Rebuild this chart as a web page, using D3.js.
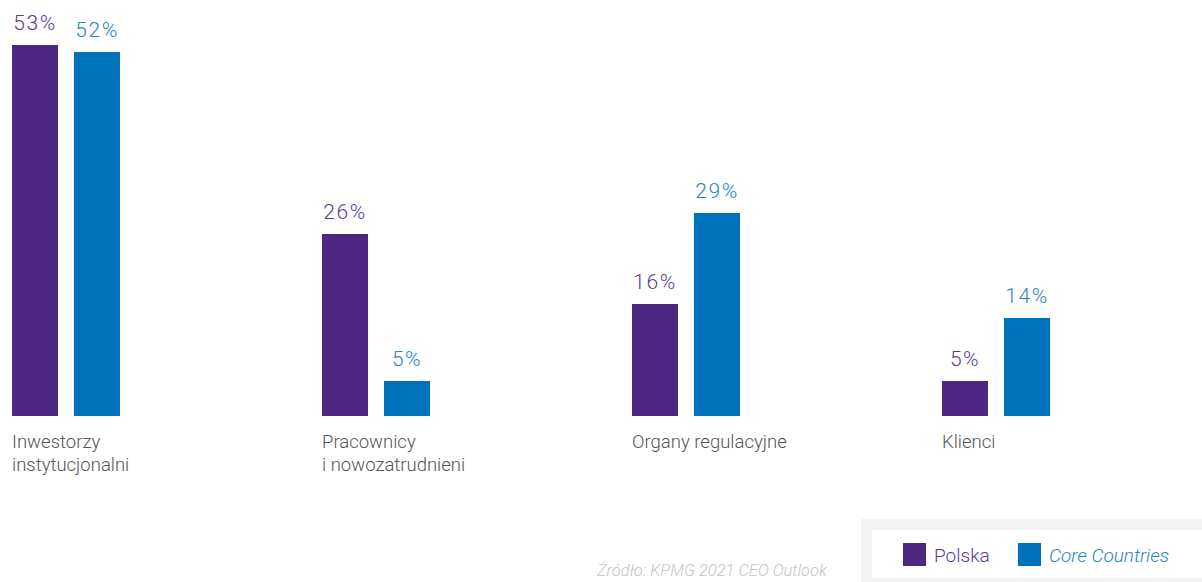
<!DOCTYPE html>
<html>
<head>
<meta charset="utf-8">
<script src="https://cdn.jsdelivr.net/npm/d3@7"></script>
<style>
  html, body { margin: 0; padding: 0; background: #fff; }
  svg { display: block; }
  text { font-family: Roboto, "Liberation Sans", Arial, sans-serif; font-weight: 300; }
</style>
</head>
<body>
<svg id="chart" width="1202" height="582"></svg>
<script>
// Stakeholder groups (each label split into lines)
const categories = [
  ["Inwestorzy", "instytucjonalni"],
  ["Pracownicy", "i nowozatrudnieni"],
  ["Organy regulacyjne"],
  ["Klienci"]
];
const seriesNames = ["Polska", "Core Countries"];
const polska = [53, 26, 16, 5];
const coreCountries = [52, 5, 29, 14];
const sourceNote = "Źródło: KPMG 2021 CEO Outlook";

const barColors = ["#4c2882", "#0071bb"];
const labelColors = ["#5b3996", "#2585c6"];

const svg = d3.select("#chart");
const keys = categories.map((c, i) => i);

const x0 = d3.scaleBand().domain(keys).range([12, 12 + 310 * 4]).paddingInner(0).paddingOuter(0);
const x1 = d3.scaleBand().domain([0, 1]).range([0, 108]).paddingInner(16 / 62).paddingOuter(0);
const y = d3.scaleLinear().domain([0, 60]).range([416, 416 - 420]);

const values = [polska, coreCountries];
const rows = [];
keys.forEach(k => values.forEach((vals, s) => rows.push({ k, s, v: vals[k] })));

const groups = svg.append("g");

groups.selectAll("rect.bar")
  .data(rows)
  .join("rect")
  .attr("class", "bar")
  .attr("x", d => x0(d.k) + x1(d.s))
  .attr("y", d => y(d.v))
  .attr("width", x1.bandwidth())
  .attr("height", d => y(0) - y(d.v))
  .attr("fill", d => barColors[d.s]);

groups.selectAll("text.val")
  .data(rows)
  .join("text")
  .attr("class", "val")
  .attr("x", d => x0(d.k) + x1(d.s) + x1.bandwidth() / 2)
  .attr("y", d => y(d.v) - 15)
  .attr("text-anchor", "middle")
  .attr("font-size", 21)
  .attr("letter-spacing", 1.5)
  .attr("fill", d => labelColors[d.s])
  .text(d => d.v + "%");

// Category labels under each group
const catText = svg.append("g").selectAll("text")
  .data(categories)
  .join("text")
  .attr("x", (d, i) => x0(i))
  .attr("y", 448)
  .attr("font-size", 18.5)
  .attr("fill", "#555");
catText.selectAll("tspan")
  .data(d => d)
  .join("tspan")
  .attr("x", function () { return d3.select(this.parentNode).attr("x"); })
  .attr("dy", (d, i) => i === 0 ? 0 : 23)
  .text(d => d);

// Source note
svg.append("text")
  .attr("x", 597)
  .attr("y", 576)
  .attr("font-size", 16.5)
  .attr("font-style", "italic")
  .attr("fill", "#c4c4c4")
  .text(sourceNote);

// Legend in a framed box at the bottom right
const legend = svg.append("g");
legend.append("rect").attr("x", 861).attr("y", 519).attr("width", 400).attr("height", 80).attr("fill", "#f4f4f4");
legend.append("rect").attr("x", 872).attr("y", 530).attr("width", 400).attr("height", 48).attr("fill", "#fff");

const legendX = [903, 1018];
const items = legend.selectAll("g.item")
  .data(seriesNames)
  .join("g")
  .attr("class", "item")
  .attr("transform", (d, i) => `translate(${legendX[i]},543)`);
items.append("rect")
  .attr("width", 23)
  .attr("height", 23)
  .attr("fill", (d, i) => barColors[i]);
items.append("text")
  .attr("x", 31)
  .attr("y", 19)
  .attr("font-size", 19)
  .attr("font-style", (d, i) => i === 1 ? "italic" : "normal")
  .attr("fill", (d, i) => labelColors[i])
  .text(d => d);
</script>
</body>
</html>
